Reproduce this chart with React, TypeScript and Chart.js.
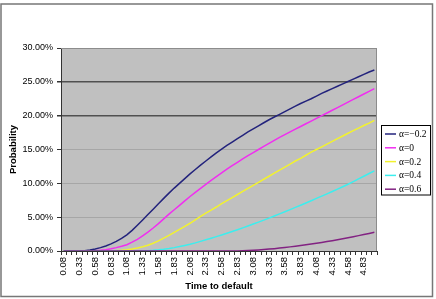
import React, { useEffect, useRef } from 'react';
import { Chart, registerables } from 'chart.js';

Chart.register(...registerables);

const timeLabels = [
  '0.08', '0.17', '0.25', '0.33', '0.42', '0.50', '0.58', '0.67', '0.75', '0.83', '0.92', '1.00',
  '1.08', '1.17', '1.25', '1.33', '1.42', '1.50', '1.58', '1.67', '1.75', '1.83', '1.92', '2.00',
  '2.08', '2.17', '2.25', '2.33', '2.42', '2.50', '2.58', '2.67', '2.75', '2.83', '2.92', '3.00',
  '3.08', '3.17', '3.25', '3.33', '3.42', '3.50', '3.58', '3.67', '3.75', '3.83', '3.92', '4.00',
  '4.08', '4.17', '4.25', '4.33', '4.42', '4.50', '4.58', '4.67', '4.75', '4.83', '4.92', '5.00',
];

const seriesNames = ['α=−0.2', 'α=0', 'α=0.2', 'α=0.4', 'α=0.6'];

const probAlphaM02 = [
  0, 0, 0, 0.01, 0.05, 0.15, 0.3, 0.5, 0.75, 1.05, 1.42, 1.85,
  2.38, 3.05, 3.8, 4.58, 5.38, 6.18, 6.98, 7.78, 8.55, 9.3, 10.0, 10.7,
  11.4, 12.05, 12.7, 13.3, 13.9, 14.5, 15.05, 15.6, 16.1, 16.6, 17.1, 17.6,
  18.05, 18.5, 18.95, 19.4, 19.8, 20.2, 20.6, 21.0, 21.4, 21.8, 22.15, 22.5,
  22.9, 23.3, 23.65, 24.0, 24.35, 24.7, 25.05, 25.4, 25.75, 26.1, 26.45, 26.75,
];

const probAlpha0 = [
  0, 0, 0, 0, 0, 0.01, 0.04, 0.1, 0.2, 0.33, 0.5, 0.7,
  0.92, 1.3, 1.72, 2.25, 2.8, 3.4, 4.05, 4.75, 5.45, 6.1, 6.75, 7.4,
  8.05, 8.65, 9.25, 9.85, 10.45, 11.0, 11.55, 12.1, 12.6, 13.1, 13.6, 14.1,
  14.55, 15.0, 15.45, 15.9, 16.35, 16.8, 17.2, 17.6, 18.0, 18.4, 18.8, 19.2,
  19.6, 20.0, 20.4, 20.8, 21.2, 21.6, 22.0, 22.4, 22.8, 23.2, 23.6, 24.0,
];

const probAlpha02 = [
  0, 0, 0, 0, 0, 0, 0, 0, 0, 0.01, 0.04, 0.1,
  0.18, 0.3, 0.45, 0.62, 0.85, 1.15, 1.5, 1.9, 2.3, 2.75, 3.2, 3.65,
  4.1, 4.6, 5.1, 5.6, 6.05, 6.5, 7.0, 7.45, 7.9, 8.35, 8.8, 9.25,
  9.7, 10.15, 10.6, 11.05, 11.5, 11.95, 12.4, 12.85, 13.3, 13.7, 14.15, 14.6,
  15.0, 15.4, 15.8, 16.2, 16.6, 17.0, 17.4, 17.8, 18.15, 18.55, 18.9, 19.3,
];

const probAlpha04 = [
  0, 0, 0, 0, 0, 0, 0, 0, 0, 0, 0, 0,
  0, 0, 0, 0.02, 0.05, 0.1, 0.17, 0.26, 0.37, 0.5, 0.65, 0.82,
  1.0, 1.2, 1.42, 1.65, 1.88, 2.12, 2.37, 2.62, 2.88, 3.15, 3.42, 3.7,
  3.98, 4.27, 4.56, 4.86, 5.17, 5.48, 5.8, 6.12, 6.44, 6.77, 7.1, 7.43,
  7.77, 8.11, 8.45, 8.8, 9.15, 9.5, 9.86, 10.25, 10.65, 11.05, 11.45, 11.85,
];

const probAlpha06 = [
  0, 0, 0, 0, 0, 0, 0, 0, 0, 0, 0, 0,
  0, 0, 0, 0, 0, 0, 0, 0, 0, 0, 0, 0,
  0, 0, 0, 0, 0, 0, 0, 0, 0, 0.01, 0.03, 0.06,
  0.1, 0.15, 0.21, 0.28, 0.35, 0.43, 0.52, 0.61, 0.71, 0.81, 0.92, 1.03,
  1.15, 1.27, 1.4, 1.53, 1.67, 1.81, 1.96, 2.11, 2.27, 2.43, 2.6, 2.78,
];

const seriesColors = ['#23237c', '#f02ef0', '#f2f22e', '#3ceeee', '#822282'];

export default function App() {
  const ref = useRef<HTMLCanvasElement>(null);

  useEffect(() => {
    const canvas = ref.current;
    if (!canvas) return;
    const series = [probAlphaM02, probAlpha0, probAlpha02, probAlpha04, probAlpha06];

    const decor = {
      id: 'decor',
      beforeDraw(chart: any) {
        const { ctx, chartArea: a, width, height } = chart;
        ctx.save();
        ctx.fillStyle = '#ffffff';
        ctx.fillRect(0, 0, width, height);
        ctx.fillStyle = '#c0c0c0';
        ctx.fillRect(a.left, a.top, a.right - a.left, a.bottom - a.top);
        ctx.restore();
      },
      afterDraw(chart: any) {
        const { ctx, chartArea: a } = chart;
        ctx.save();
        ctx.strokeStyle = '#8c8c8c';
        ctx.lineWidth = 1;
        ctx.beginPath();
        ctx.moveTo(a.left, a.top + 0.5);
        ctx.lineTo(a.right - 0.5, a.top + 0.5);
        ctx.lineTo(a.right - 0.5, a.bottom);
        ctx.stroke();
        ctx.strokeStyle = '#777777';
        ctx.lineWidth = 1.5;
        ctx.strokeRect(1, 4, 431.5, 292.5);
        const bx = 381.5, by = 125.5, bw = 49, bh = 69.5;
        ctx.fillStyle = '#ffffff';
        ctx.fillRect(bx, by, bw, bh);
        ctx.strokeStyle = '#000000';
        ctx.lineWidth = 1;
        ctx.strokeRect(bx, by, bw, bh);
        ctx.font = '9.5px "Liberation Serif"';
        ctx.textBaseline = 'middle';
        ctx.textAlign = 'left';
        seriesNames.forEach((name, i) => {
          const y = 134 + i * 13.8;
          ctx.strokeStyle = seriesColors[i];
          ctx.lineWidth = 1.5;
          ctx.beginPath();
          ctx.moveTo(385, y);
          ctx.lineTo(396, y);
          ctx.stroke();
          ctx.fillStyle = '#000000';
          ctx.fillText(name, 399, y + 0.5);
        });
        ctx.restore();
      },
    };

    const chart = new Chart(canvas, {
      type: 'line',
      data: {
        labels: timeLabels,
        datasets: series.map((d, i) => ({
          label: seriesNames[i],
          data: d,
          borderColor: seriesColors[i],
          backgroundColor: seriesColors[i],
          borderWidth: 1.5,
          pointRadius: 0,
          tension: 0,
          fill: false,
          order: 4 - i,
        })),
      },
      options: {
        responsive: false,
        animation: false,
        events: [],
        layout: { padding: { left: 5, top: 48, right: 59, bottom: 0 } },
        plugins: {
          legend: { display: false },
          tooltip: { enabled: false },
          title: { display: false },
        },
        scales: {
          x: {
            type: 'category',
            offset: true,
            grid: {
              offset: true,
              drawOnChartArea: false,
              drawTicks: true,
              tickLength: 4,
              tickColor: '#333333',
            },
            border: { display: true, color: '#333333', width: 1 },
            ticks: {
              autoSkip: false,
              maxRotation: 90,
              minRotation: 90,
              padding: 2,
              color: '#000000',
              font: { family: '"Liberation Sans"', size: 9.5 },
              callback: (_v: any, i: number) => (i % 3 === 0 ? timeLabels[i] : ''),
            },
            title: {
              display: true,
              text: 'Time to default',
              color: '#000000',
              font: { family: '"Liberation Sans"', size: 9.5, weight: 'bold' },
              padding: { top: 0, bottom: 7 },
            },
            afterFit: (s: any) => {
              s.height = 48;
            },
          },
          y: {
            min: 0,
            max: 30,
            ticks: {
              stepSize: 5,
              padding: 4,
              color: '#000000',
              font: { family: '"Liberation Sans"', size: 9 },
              callback: (v: any) => Number(v).toFixed(2) + '%',
            },
            grid: {
              color: (c: any) => {
                const v = c.tick ? c.tick.value : 0;
                if (v === 20 || v === 25) return '#505050';
                if (v === 30) return '#8c8c8c';
                return '#a6a6a6';
              },
              lineWidth: (c: any) => {
                const v = c.tick ? c.tick.value : 0;
                return v === 20 || v === 25 ? 1.5 : 1;
              },
              tickColor: '#333333',
              tickLength: 4,
            },
            border: { display: true, color: '#333333', width: 1 },
            title: {
              display: true,
              text: 'Probability',
              color: '#000000',
              font: { family: '"Liberation Sans"', size: 9.5, weight: 'bold' },
              padding: { top: 3, bottom: 0 },
            },
            afterFit: (s: any) => {
              s.width = 56;
            },
          },
        },
      },
      plugins: [decor],
    } as any);

    return () => chart.destroy();
  }, []);

  return (
    <div style={{ position: 'absolute', left: 0, top: 0, width: 436, height: 299 }}>
      <canvas ref={ref} width={436} height={299} style={{ display: 'block' }} />
    </div>
  );
}
